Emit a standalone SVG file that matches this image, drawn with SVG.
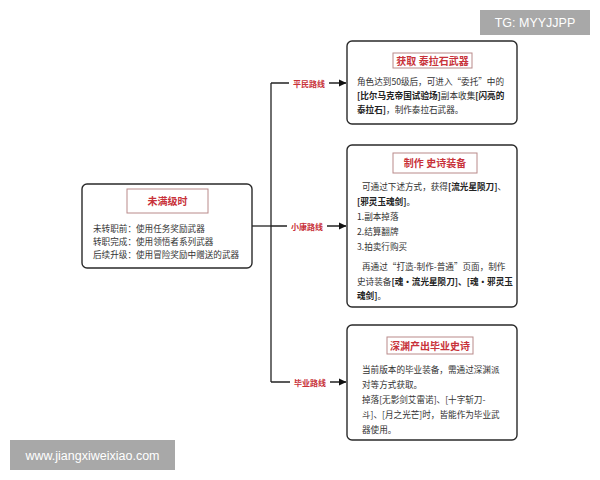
<svg xmlns="http://www.w3.org/2000/svg" width="600" height="480" viewBox="0 0 600 480">
<style>
.box{fill:#fff;stroke:#2a2a2a;stroke-width:1.4}
.tbox{fill:#fff;stroke:#b98a8a;stroke-width:1}
.title{font-family:"Noto Sans CJK SC","Noto Sans",sans-serif;font-size:10px;font-weight:bold;fill:#c8323a;text-anchor:middle}
.t{font-family:"Noto Sans CJK SC","Noto Sans",sans-serif;font-size:8.6px;fill:#333}
.b{font-weight:bold;fill:#222}
.lbl{font-family:"Noto Sans CJK SC","Noto Sans",sans-serif;font-size:8px;font-weight:bold;fill:#c8323a;text-anchor:middle}
.line{stroke:#222;stroke-width:1.3;fill:none}
.wm{fill:#a8a8a8}
.wmt{font-family:"Liberation Sans",Arial,sans-serif;font-size:12.5px;fill:#fff;text-anchor:middle}
</style>
<defs>
<marker id="arr" markerWidth="8" markerHeight="8" refX="7" refY="4" orient="auto" markerUnits="userSpaceOnUse">
<path d="M0,0.5 L7.5,4 L0,7.5 z" fill="#111"/>
</marker>
</defs>
<rect width="600" height="480" fill="#fff"/>

<g id="connectors">
<path class="line" d="M252,226 H271"/>
<path class="line" d="M271,83 V382"/>
<path class="line" d="M271,83 H346" marker-end="url(#arr)"/>
<path class="line" d="M271,226 H346" marker-end="url(#arr)"/>
<path class="line" d="M271,382 H346" marker-end="url(#arr)"/>
<rect x="289" y="77" width="40" height="12" fill="#fff"/>
<text class="lbl" x="309" y="86.5">平民路线</text>
<rect x="287" y="220" width="40" height="12" fill="#fff"/>
<text class="lbl" x="307" y="229.5">小康路线</text>
<rect x="290" y="376" width="40" height="12" fill="#fff"/>
<text class="lbl" x="310" y="385.5">毕业路线</text>
</g>

<g id="root">
<rect class="box" x="82" y="184" width="170" height="84" rx="5"/>
<rect class="tbox" x="127" y="189" width="81" height="24"/>
<text class="title" x="167.5" y="205">未满级时</text>
<text class="t" x="93" y="232">未转职前：使用任务奖励武器</text>
<text class="t" x="93" y="245">转职完成：使用领悟者系列武器</text>
<text class="t" x="93" y="258">后续升级：使用冒险奖励中赠送的武器</text>
</g>

<g id="n1">
<rect class="box" x="347" y="41" width="170" height="83" rx="5"/>
<rect class="tbox" x="393" y="53" width="79" height="15"/>
<text class="title" x="432.5" y="64.5">获取 泰拉石武器</text>
<text class="t" x="357" y="85">角色达到50级后，可进入“委托”中的</text>
<text class="t" x="357" y="99"><tspan class="b">[比尔马克帝国试验场]</tspan>副本收集<tspan class="b">[闪亮的</tspan></text>
<text class="t" x="357" y="113"><tspan class="b">泰拉石]</tspan>，制作泰拉石武器。</text>
</g>

<g id="n2">
<rect class="box" x="347" y="145" width="170" height="162" rx="5"/>
<rect class="tbox" x="393" y="153" width="84" height="20"/>
<text class="title" x="435" y="167">制作 史诗装备</text>
<text class="t" x="362" y="190">可通过下述方式，获得<tspan class="b">[流光星陨刀]</tspan>、</text>
<text class="t" x="357" y="205"><tspan class="b">[邪灵玉魂剑]</tspan>。</text>
<text class="t" x="357" y="220">1.副本掉落</text>
<text class="t" x="357" y="235">2.结算翻牌</text>
<text class="t" x="357" y="250">3.拍卖行购买</text>
<text class="t" x="362" y="270">再通过“打造-制作-普通”页面，制作</text>
<text class="t" x="357" y="285">史诗装备<tspan class="b">[魂•流光星陨刀]、[魂•邪灵玉</tspan></text>
<text class="t" x="357" y="299"><tspan class="b">魂剑]</tspan>。</text>
</g>

<g id="n3">
<rect class="box" x="347" y="325" width="170" height="115" rx="5"/>
<rect class="tbox" x="387" y="337" width="86" height="17"/>
<text class="title" x="430" y="349.5">深渊产出毕业史诗</text>
<text class="t" x="362" y="373">当前版本的毕业装备，需通过深渊派</text>
<text class="t" x="362" y="388">对等方式获取。</text>
<text class="t" x="362" y="403">掉落[无影剑艾雷诺]、[十字斩刀-</text>
<text class="t" x="362" y="418">斗]、[月之光芒]时，皆能作为毕业武</text>
<text class="t" x="362" y="433">器使用。</text>
</g>

<g id="watermarks">
<rect class="wm" x="480" y="10" width="110" height="25"/>
<text class="wmt" x="535" y="27">TG: MYYJJPP</text>
<rect class="wm" x="10" y="440" width="165" height="30"/>
<text class="wmt" x="92.5" y="459.5">www.jiangxiweixiao.com</text>
</g>
</svg>
